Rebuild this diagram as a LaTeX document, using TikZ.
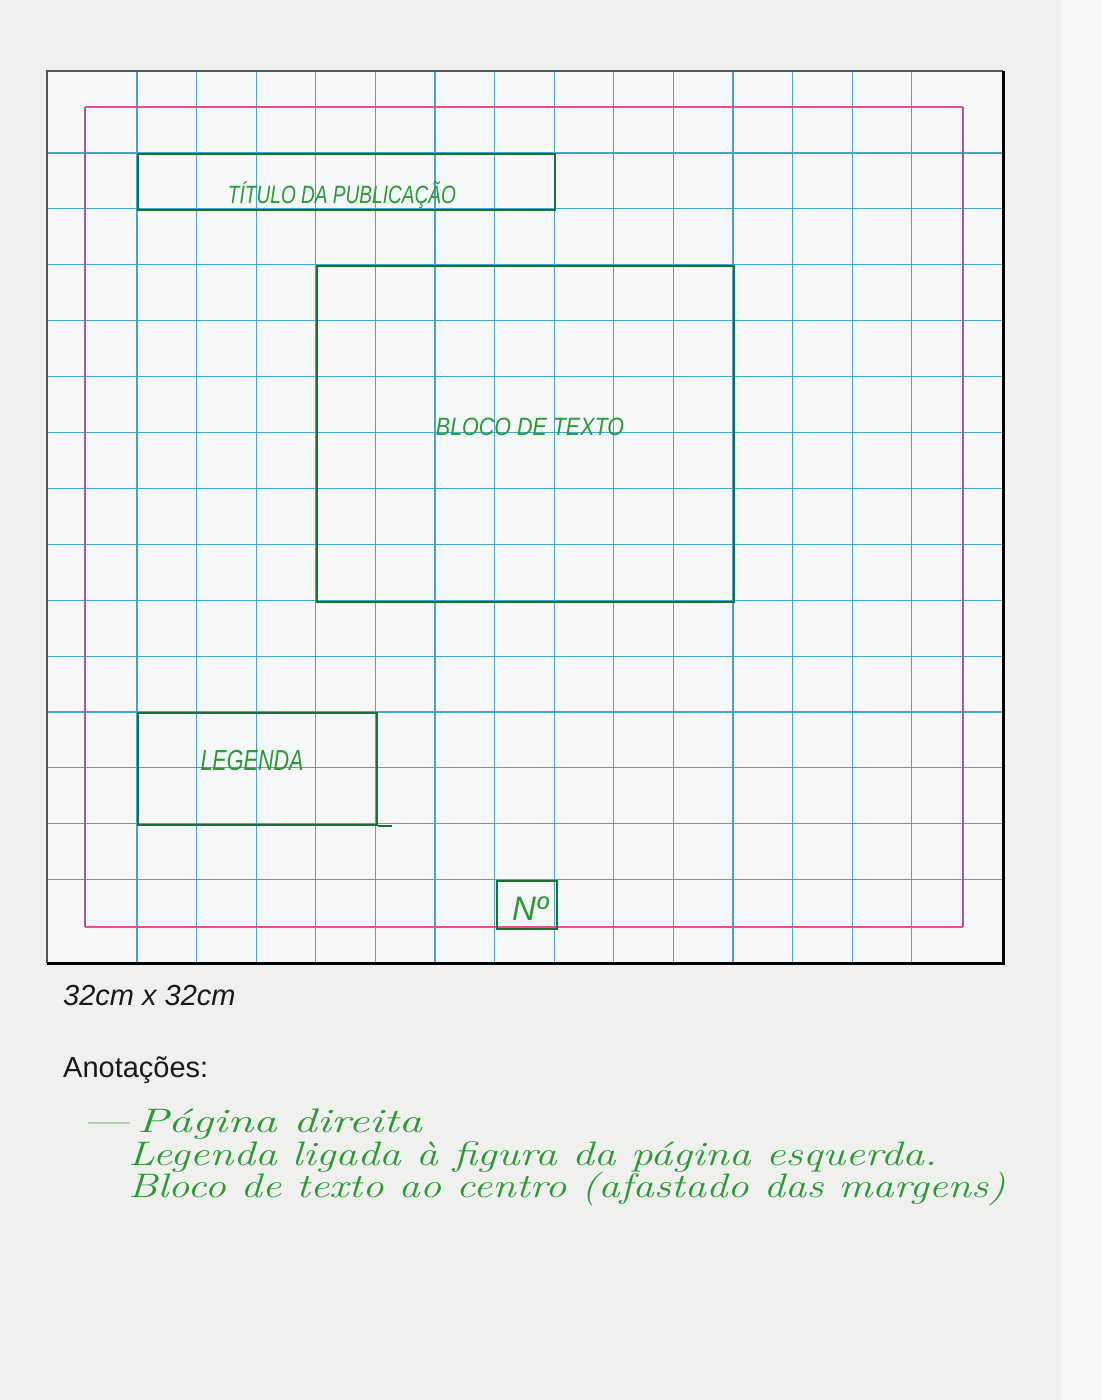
\documentclass[tikz,border=0pt]{standalone}
\usepackage{fontspec}
\usepackage{graphicx}
\newfontfamily\arial{Liberation Sans}
\definecolor{paper}{RGB}{240,240,239}
\definecolor{paperlight}{RGB}{248,248,246}
\definecolor{sheet}{RGB}{246,247,249}
\definecolor{gridblue}{RGB}{70,165,205}
\definecolor{marginpink}{RGB}{236,80,140}
\definecolor{marginviolet}{RGB}{160,90,170}
\definecolor{framegray}{RGB}{85,85,85}
\definecolor{penDark}{RGB}{25,115,45}
\definecolor{penGreen}{RGB}{40,155,50}
\definecolor{ink}{RGB}{25,25,25}
\begin{document}
\begin{tikzpicture}[x=1pt,y=-1pt,
  gridline/.style={draw=gridblue, line width=1.1pt},
  marginh/.style={draw=marginpink, line width=1.4pt},
  marginv/.style={draw=marginviolet, line width=1.4pt},
  pagebox/.style={fill=sheet, draw=none, inner sep=0pt, anchor=north west},
  greenbox/.style={draw=penDark, line width=2pt, inner sep=0pt, anchor=north west},
  handlabel/.style={text=penGreen, anchor=base, inner sep=0pt},
  note/.style={text=penGreen, anchor=base west, inner sep=0pt, font=\fontsize{34}{40}\selectfont\itshape},
  printed/.style={anchor=base west, inner sep=0pt, text=ink, font=\arial\fontsize{29}{34}\selectfont}
]
\useasboundingbox (0,0) rectangle (1102,1400);
\fill[paper] (0,0) rectangle (1102,1400);
\fill[paperlight] (1062,0) rectangle (1102,1400);

% sheet
\node[pagebox, minimum width=956pt, minimum height=892pt] (page) at (47,71) {};

% grid
\foreach \k in {0,...,13} {
  \draw[gridline] ({137+59.6*\k},71) -- ({137+59.6*\k},963);
  \draw[gridline] (47,{153+55.9*\k}) -- (1003,{153+55.9*\k});
}

% margins
\draw[marginh] (85,107) -- (963,107);
\draw[marginh] (85,927) -- (963,927);
\draw[marginv] (85,107) -- (85,927);
\draw[marginv] (963,107) -- (963,927);

% frame
\draw[framegray, line width=1.6pt] (page.south west) -- (page.north west) -- (page.north east);
\draw[black, line width=2.6pt] (page.north east) -- (page.south east) -- (page.south west);

% boxes
\node[greenbox, minimum width=417pt, minimum height=56pt] (titulo) at (137,153) {};
\node[greenbox, minimum width=417pt, minimum height=336pt] (bloco) at (316,265) {};
\node[greenbox, minimum width=239pt, minimum height=112pt] (legenda) at (137,712) {};
\node[greenbox, minimum width=60pt, minimum height=48pt] (numero) at (496,880) {};
\coordinate (legendaTail) at ([xshift=14pt]legenda.south east);
\draw[penDark, line width=2pt] (legenda.south east) -- (legendaTail);

% labels
\node[handlabel, font=\arial\itshape\fontsize{25}{28}\selectfont] (tituloLbl) at (342,203) {\resizebox{228pt}{\height}{TÍTULO DA PUBLICAÇÃO}};
\node[handlabel, font=\arial\itshape\fontsize{25}{28}\selectfont] (blocoLbl) at (530,435) {\resizebox{188pt}{\height}{BLOCO DE TEXTO}};
\node[handlabel, font=\arial\itshape\fontsize{29}{32}\selectfont] (legendaLbl) at (252,770) {\resizebox{103pt}{\height}{LEGENDA}};
\node[handlabel, font=\arial\itshape\fontsize{34}{38}\selectfont] (numeroLbl) at (530,920) {\resizebox{36pt}{\height}{Nº}};

% printed text
\node[printed] (dim) at (63,1005) {\itshape 32cm x 32cm};
\node[printed] (anot) at (63,1077) {Anotações:};

% handwritten notes
\node[note] (n1) at (82,1132) {\resizebox{340pt}{\height}{—\,Página direita}};
\node[note] (n2) at (128,1165) {\resizebox{809pt}{\height}{Legenda ligada à figura da página esquerda.}};
\node[note] (n3) at (128,1197) {\resizebox{877pt}{\height}{Bloco de texto ao centro (afastado das margens)}};
\end{tikzpicture}
\end{document}
